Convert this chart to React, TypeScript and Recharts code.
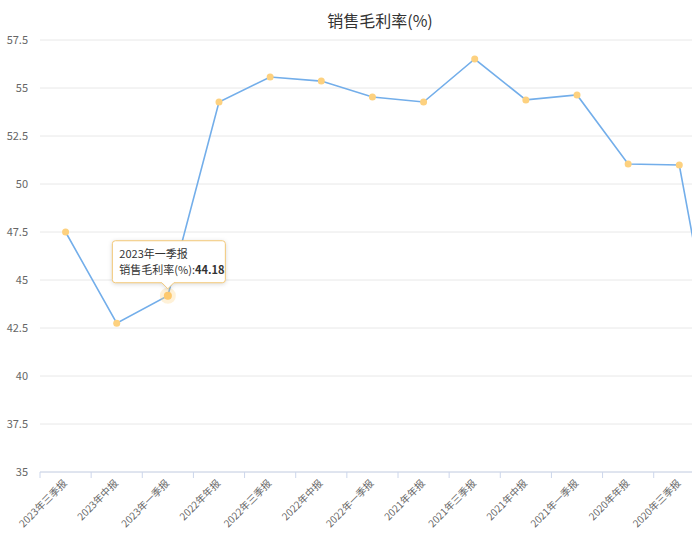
import { LineChart, Line, XAxis, YAxis, CartesianGrid, Tooltip } from 'recharts';

// report periods, newest first (the last one runs past the right edge)
const periods = [
  '2023年三季报', '2023年中报', '2023年一季报', '2022年年报', '2022年三季报', '2022年中报', '2022年一季报',
  '2021年年报', '2021年三季报', '2021年中报', '2021年一季报', '2020年年报', '2020年三季报', '2020年中报',
];
const grossMargin = [47.5, 42.75, 44.18, 54.27, 55.57, 55.36, 54.53, 54.27, 56.51, 54.38, 54.64, 51.04, 50.99, 36.6];
const yTicks = [35, 37.5, 40, 42.5, 45, 47.5, 50, 52.5, 55, 57.5];

const data = periods.map((p, i) => ({ name: p, value: grossMargin[i] }));

const CHART_W = 760;
const CHART_H = 537;
const Y_W = 40;
const MARGIN = { top: 40, right: 4, left: 0, bottom: 0 };
const BAND = (CHART_W - Y_W - MARGIN.left - MARGIN.right) / periods.length;
const FONT = '"Noto Sans CJK SC", "Noto Sans", sans-serif';

const XTick = ({ x, y, payload, index }: any) => (
  <g>
    <line x1={x - BAND / 2} x2={x - BAND / 2} y1={y} y2={y + 6} stroke="#ccd6eb" />
    {/* the last period sits outside the visible frame, its label is not shown */}
    {index < periods.length - 1 && (
      <text
        x={x + 2}
        y={y + 12}
        textAnchor="end"
        fontSize={10}
        fill="#666"
        fontFamily={FONT}
        transform={`rotate(-45 ${x + 2} ${y + 12})`}
      >
        {payload.value}
      </text>
    )}
  </g>
);

const ActivePoint = ({ cx, cy, payload }: any) => {
  const w = 113;
  const h = 42;
  const left = cx - w / 2 + 1;
  const bottom = cy - 13;
  const top = bottom - h;
  const box = `M${left + 3},${top} H${left + w - 3} Q${left + w},${top} ${left + w},${top + 3} V${bottom - 3} Q${left + w},${bottom} ${left + w - 3},${bottom} H${cx + 6} L${cx},${bottom + 6} L${cx - 6},${bottom} H${left + 3} Q${left},${bottom} ${left},${bottom - 3} V${top + 3} Q${left},${top} ${left + 3},${top} Z`;
  return (
    <g>
      <circle cx={cx} cy={cy} r={8} fill="#fdd17f" fillOpacity={0.3} />
      <circle cx={cx} cy={cy} r={4} fill="#fdc96e" />
      <path d={box} fill="#fff" stroke="#f3c878" strokeWidth={1} style={{ filter: 'drop-shadow(0 1px 2px rgba(0,0,0,0.15))' }} />
      <text x={left + 7} y={top + 17} fontSize={11} fill="#333" fontFamily={FONT}>
        {payload.name}
      </text>
      <text x={left + 7} y={top + 33} fontSize={11} fill="#333" fontFamily={FONT}>
        销售毛利率(%):<tspan fontWeight="bold">{payload.value}</tspan>
      </text>
    </g>
  );
};

export default function App() {
  return (
    <div style={{ position: 'absolute', left: 0, top: 0, width: 692, height: 537, overflow: 'hidden', background: '#fff' }}>
      <div
        style={{
          position: 'absolute',
          top: 10,
          left: 0,
          width: CHART_W,
          textAlign: 'center',
          fontSize: 16,
          lineHeight: '20px',
          color: '#333',
          fontFamily: FONT,
        }}
      >
        销售毛利率(%)
      </div>
      <LineChart width={CHART_W} height={CHART_H} data={data} margin={MARGIN}>
        <CartesianGrid vertical={false} stroke="#e8e8e8" />
        <XAxis
          dataKey="name"
          scale="band"
          interval={0}
          height={65}
          tickSize={0}
          tickMargin={0}
          tickLine={false}
          axisLine={{ stroke: '#ccd6eb' }}
          tick={<XTick />}
        />
        <YAxis
          width={Y_W}
          domain={[35, 57.5]}
          ticks={yTicks}
          interval={0}
          axisLine={false}
          tickLine={false}
          tickSize={6}
          tickMargin={6}
          tick={{ fontSize: 11, fill: '#666', fontFamily: FONT }}
        />
        <Tooltip defaultIndex={2} cursor={false} content={() => null} isAnimationActive={false} />
        <Line
          type="linear"
          dataKey="value"
          stroke="#73aeea"
          strokeWidth={1.6}
          dot={{ r: 3.5, fill: '#fdd17f', stroke: 'none' }}
          activeDot={<ActivePoint />}
          isAnimationActive={false}
        />
      </LineChart>
    </div>
  );
}
